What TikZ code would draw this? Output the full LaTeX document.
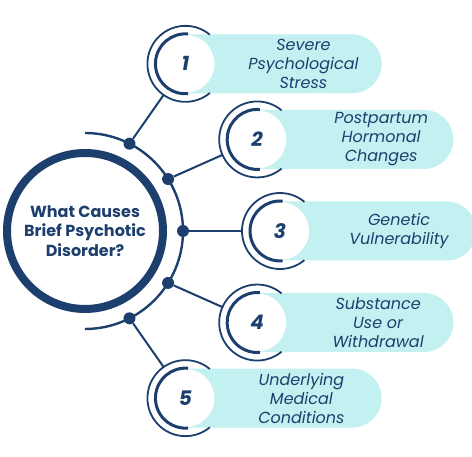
\documentclass[tikz,border=0pt]{standalone}
\usepackage{fontspec}
\setmainfont{Poppins}
\usepackage{xcolor}
\usepackage{tikz}
\usetikzlibrary{shapes.misc}

\definecolor{navy}{HTML}{1D3F6E}
\definecolor{aqua}{HTML}{C3F0F1}

\tikzset{
  hub/.style={circle, draw=navy, line width=8pt, minimum size=156pt, inner sep=0pt,
    align=center, text=navy, font=\fontsize{16}{19.5}\selectfont\bfseries},
  arcline/.style={navy, line width=2.4pt},
  conn/.style={navy, line width=2pt},
  knob/.style={circle, fill=navy, minimum size=12pt, inner sep=0pt},
  ring/.style={circle, minimum size=76pt, inner sep=0pt},
  pill/.style={rounded rectangle, rounded rectangle west arc=none, fill=aqua,
    minimum height=59pt, minimum width=196pt, inner sep=0pt, anchor=west},
  num/.style={text=navy, font=\fontsize{20}{20}\selectfont\bfseries\itshape},
  lbl/.style={align=center, text=navy, font=\fontsize{16}{19}\selectfont\itshape}
}

\begin{document}
\begin{tikzpicture}[x=1pt, y=1pt]
    \useasboundingbox (0,0) rectangle (472,457);

    \node[hub] (hub) at (85,226) {What Causes\\Brief Psychotic\\Disorder?};
    \draw[arcline] (hub.center) ++(90:98) arc (90:-90:98);

    % circles, pills and connectors
    \foreach \k/\ang/\kang in {1/59/63, 2/28/32, 3/0/0, 4/-28/-32, 5/-59/-63}{
        \coordinate (it\k) at ([shift={(\ang:195)}]hub.center);
        \node[knob] (knob\k) at ([shift={(\kang:98)}]hub.center) {};
        \node[pill] (pill\k) at (it\k) {};
        \fill[white] (it\k) circle (29);
        \draw[navy, line width=3pt] (it\k) ++(85:30) arc (85:275:30);
        \draw[navy, line width=1.8pt] (it\k) ++(50:38) arc (50:310:38);
        \node[ring] (ring\k) at (it\k) {};
        \node[num] (num\k) at (it\k) {\k};
        \draw[conn] (knob\k) -- (ring\k);
    }

    % labels
    \node[lbl] (lbl1) at ([xshift=118pt]it1) {Severe\\Psychological\\Stress};
    \node[lbl] (lbl2) at ([xshift=124pt]it2) {Postpartum\\Hormonal\\Changes};
    \node[lbl] (lbl3) at ([xshift=119pt]it3) {Genetic\\Vulnerability};
    \node[lbl] (lbl4) at ([xshift=121pt]it4) {Substance\\Use or\\Withdrawal};
    \node[lbl] (lbl5) at ([xshift=116pt]it5) {Underlying\\Medical\\Conditions};
\end{tikzpicture}
\end{document}
